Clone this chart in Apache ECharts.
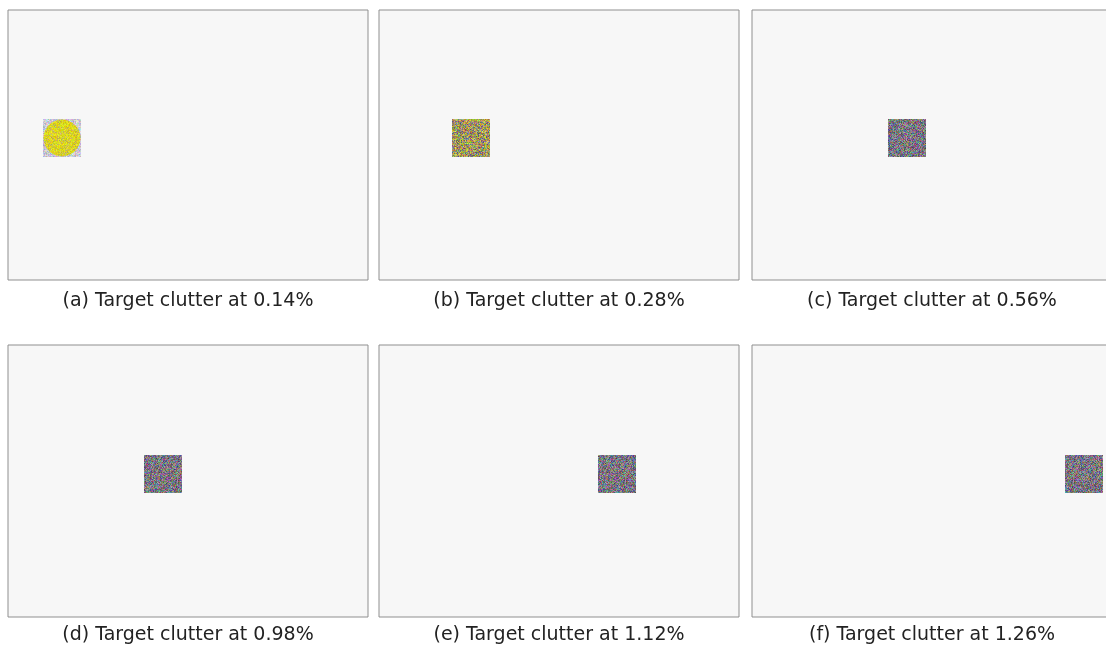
<!DOCTYPE html>
<html>
<head>
<meta charset="utf-8">
<script src="https://cdn.jsdelivr.net/npm/echarts@6/dist/echarts.min.js"></script>
<style>
  html, body { margin: 0; padding: 0; background: #fff; overflow: hidden; }
  #chart { width: 1124px; height: 648px; }
</style>
</head>
<body>
<div id="chart"></div>
<script>
// panel labels and clutter percentages
var panelLabels = ['a', 'b', 'c', 'd', 'e', 'f'];
var clutterPct = [0.14, 0.28, 0.56, 0.98, 1.12, 1.26];
// target centre inside each 360 x 270 scene (x from left, y from top)
var targetX = [54, 92, 155, 155, 238, 332];
var targetY = [128, 128, 128, 129, 129, 129];
// target kind: circle over clutter, mixed, pure clutter
var targetKind = ['circle', 'mixed', 'clutter', 'clutter', 'clutter', 'clutter'];

// deterministic speckle texture used as fill (styling only)
function hash(n) {
    var s = Math.sin(n * 12.9898 + 78.233) * 43758.5453;
    return s - Math.floor(s);
}
function makeTexture(base, spread, seed, alt, altShare) {
    var c = document.createElement('canvas');
    c.width = 64; c.height = 64;
    var ctx = c.getContext('2d');
    var img = ctx.createImageData(64, 64);
    for (var i = 0; i < 4096; i++) {
        var k = i * 4 + seed * 20000;
        var col = base;
        if (alt && hash(k + 3) < altShare) col = alt;
        var r = col[0] + (hash(k) - 0.5) * spread;
        var g = col[1] + (hash(k + 1) - 0.5) * spread;
        var b = col[2] + (hash(k + 2) - 0.5) * spread;
        img.data[i * 4] = Math.max(0, Math.min(255, r));
        img.data[i * 4 + 1] = Math.max(0, Math.min(255, g));
        img.data[i * 4 + 2] = Math.max(0, Math.min(255, b));
        img.data[i * 4 + 3] = 255;
    }
    ctx.putImageData(img, 0, 0);
    return { image: c, repeat: 'repeat' };
}

var grayTex = makeTexture([122, 118, 128], 120, 1);
var lightTex = makeTexture([200, 200, 212], 80, 2);
var yellowTex = makeTexture([222, 216, 28], 50, 3, [195, 185, 90], 0.2);
var mixedTex = makeTexture([128, 122, 128], 110, 4, [180, 170, 70], 0.55);

var myChart = echarts.init(document.getElementById('chart'));

var lefts = [8, 379, 752];
var tops = [10, 345];
var heights = [270, 272];
var captionX = [188, 559, 932];
var captionY = [292, 626];

var grids = [], xAxes = [], yAxes = [], series = [], titles = [];

function patchRenderer(kind) {
    return function (params, api) {
        var p = api.coord([api.value(0), api.value(1)]);
        var square = {
            type: 'rect',
            shape: { x: p[0] - 19, y: p[1] - 19, width: 38, height: 38 },
            style: { fill: kind === 'circle' ? lightTex : (kind === 'mixed' ? mixedTex : grayTex) }
        };
        if (kind !== 'circle') return square;
        return {
            type: 'group',
            children: [square, {
                type: 'circle',
                shape: { cx: p[0], cy: p[1], r: 18.5 },
                style: { fill: yellowTex }
            }]
        };
    };
}

for (var i = 0; i < 6; i++) {
    var col = i % 3, row = Math.floor(i / 3);
    grids.push({
        left: lefts[col], top: tops[row], width: 360, height: heights[row],
        show: true, backgroundColor: '#f7f7f7', borderColor: '#8f8f8f', borderWidth: 1
    });
    xAxes.push({ type: 'value', gridIndex: i, min: 0, max: 360, show: false });
    yAxes.push({ type: 'value', gridIndex: i, min: 0, max: heights[row], inverse: true, show: false });

    series.push({
        type: 'custom', xAxisIndex: i, yAxisIndex: i, silent: true,
        data: [[targetX[i], targetY[i]]],
        renderItem: patchRenderer(targetKind[i])
    });

    titles.push({
        text: '(' + panelLabels[i] + ') Target clutter at ' + clutterPct[i].toFixed(2) + '%',
        left: captionX[col], top: captionY[row], textAlign: 'center', padding: 0,
        textStyle: { fontFamily: 'DejaVu Sans', fontSize: 19, fontWeight: 'normal', color: '#222' }
    });
}

var option = {
    backgroundColor: '#fff',
    animation: false,
    title: titles,
    grid: grids,
    xAxis: xAxes,
    yAxis: yAxes,
    series: series
};
myChart.setOption(option);
</script>
</body>
</html>
